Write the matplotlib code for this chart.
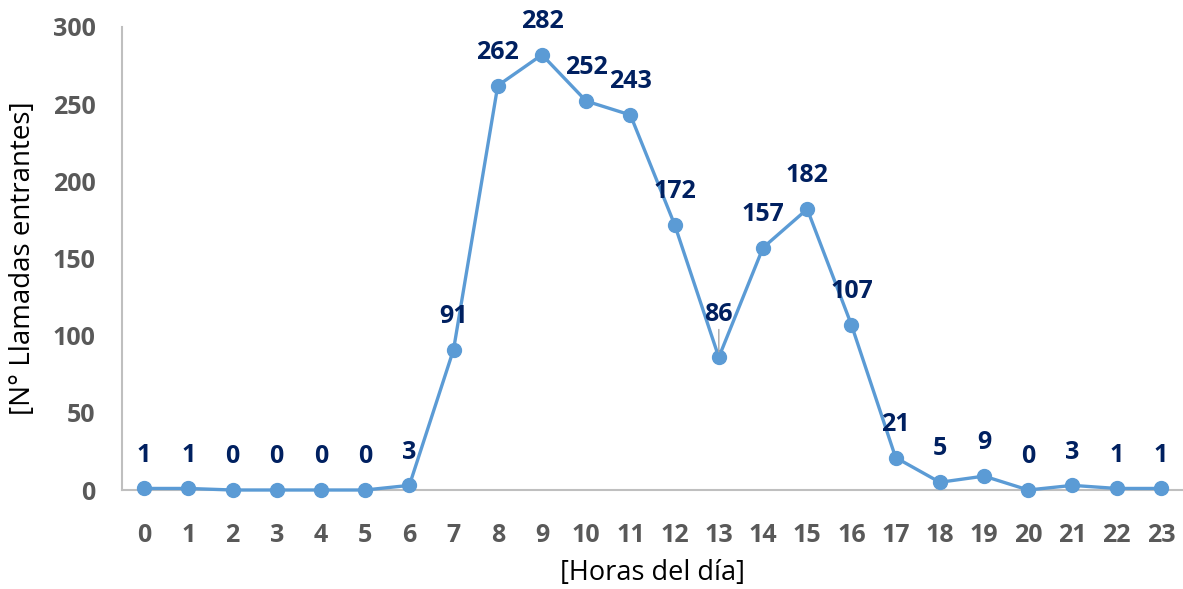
import numpy as np
import matplotlib.pyplot as plt

plt.rcParams['font.family'] = ['Open Sans', 'DejaVu Sans']

horas = list(range(24))
llamadas = [1, 1, 0, 0, 0, 0, 3, 91, 262, 282, 252, 243, 172, 86, 157, 182,
            107, 21, 5, 9, 0, 3, 1, 1]

line_color = '#5B9BD5'
label_color = '#002060'
tick_color = '#595959'

fig = plt.figure(figsize=(11.83, 5.89), dpi=100)
ax = fig.add_axes([122 / 1183, 99 / 589, 1 - 122 / 1183, 463 / 589])

ax.plot(horas, llamadas, color=line_color, lw=2.4, marker='o', ms=10,
        clip_on=False, zorder=3)

for h, v in zip(horas, llamadas):
    if v == 86:
        ax.annotate(str(v), (h, v), xytext=(0, 22), textcoords='offset points',
                    ha='center', va='bottom', fontsize=18, fontweight='bold',
                    color=label_color,
                    arrowprops=dict(arrowstyle='-', color='#A6A6A6', lw=1,
                                    shrinkA=0, shrinkB=4))
    else:
        ax.annotate(str(v), (h, v), xytext=(0, 15), textcoords='offset points',
                    ha='center', va='bottom', fontsize=18, fontweight='bold',
                    color=label_color)

ax.set_xlim(-0.5, 23.5)
ax.set_ylim(0, 300)
ax.set_xticks(horas)
ax.set_yticks(np.arange(0, 301, 50))
ax.tick_params(length=0, labelsize=18, labelcolor=tick_color)
ax.tick_params(axis='x', pad=24)
ax.tick_params(axis='y', pad=19)
for lab in ax.get_xticklabels() + ax.get_yticklabels():
    lab.set_fontweight('bold')

for s in ['top', 'right']:
    ax.spines[s].set_visible(False)
for s in ['left', 'bottom']:
    ax.spines[s].set_color('#BFBFBF')
    ax.spines[s].set_linewidth(1.5)

ax.set_xlabel('[Horas del día]', fontsize=19.5, color='black', labelpad=8)
ax.set_ylabel('[N° Llamadas entrantes]', fontsize=20, color='black', labelpad=11)

fig.savefig('out.png', dpi=100)
